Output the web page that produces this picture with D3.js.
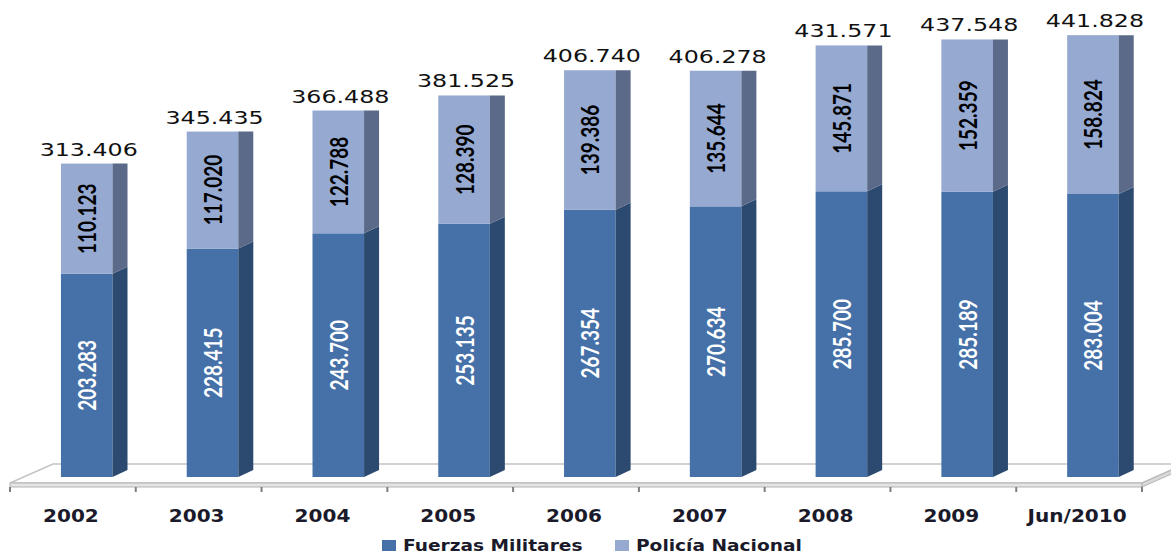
<!DOCTYPE html>
<html lang="en">
<head>
<meta charset="utf-8">
<title>Fuerzas Militares y Policía Nacional</title>
<script src="https://d3js.org/d3.v7.min.js"></script>
<style>
  body { margin: 0; background: #fff; }
  svg { display: block; }
</style>
</head>
<body>
<svg width="1171" height="556"></svg>
<script>
// data
var years = ["2002", "2003", "2004", "2005", "2006", "2007", "2008", "2009", "Jun/2010"];
var militares = [203.283, 228.415, 243.700, 253.135, 267.354, 270.634, 285.700, 285.189, 283.004];
var policia = [110.123, 117.020, 122.788, 128.390, 139.386, 135.644, 145.871, 152.359, 158.824];
var totals = [313.406, 345.435, 366.488, 381.525, 406.740, 406.278, 431.571, 437.548, 441.828];
var seriesNames = ["Fuerzas Militares", "Policía Nacional"];

var frontColors = ["#4571a8", "#95a9d1"],
    sideColors = ["#2c4a6f", "#5b6a88"],
    labelColors = ["#fff", "#000"];

var svg = d3.select("svg");

var x = d3.scaleBand()
    .domain(years)
    .range([10, 1142]);

var y = d3.scaleLinear()
    .domain([0, 450])
    .range([477, 27]);

var step = x.step(),
    barW = step * 0.41,
    barOff = step * 0.405,
    depth = 15,
    skew = 7;

var fmt = function(v) { return d3.format(".3f")(v); };

// floor
var floorTop = 464, floorFront = 483, floorBottom = 487;
svg.append("polygon")
    .attr("points", [[53, floorTop], [1185, floorTop], [1142, floorFront], [10, floorFront]].join(" "))
    .attr("fill", "#fff")
    .attr("stroke", "#c4c4c4")
    .attr("stroke-width", 1.5);
svg.append("rect")
    .attr("x", 10).attr("y", floorFront)
    .attr("width", 1132).attr("height", floorBottom - floorFront)
    .attr("fill", "#e4e4e4")
    .attr("stroke", "#b4b4b4");
svg.append("polygon")
    .attr("points", [[1142, floorFront], [1185, floorTop], [1185, floorTop + 4], [1142, floorBottom]].join(" "))
    .attr("fill", "#d8d8d8")
    .attr("stroke", "#b4b4b4");

// ticks
svg.selectAll(".tick")
    .data(d3.range(years.length + 1))
    .enter()
    .append("line")
    .attr("x1", function(i) { return x.range()[0] + i * step; })
    .attr("x2", function(i) { return x.range()[0] + i * step; })
    .attr("y1", floorBottom)
    .attr("y2", floorBottom + 5)
    .attr("stroke", "#7f7f7f")
    .attr("stroke-width", 2);

// stacked data
var stackData = years.map(function(d, i) {
  return { year: d, vals: [militares[i], policia[i]], total: totals[i] };
});

var bars = svg.selectAll(".bar")
    .data(stackData)
    .enter()
    .append("g")
    .attr("class", "bar");

bars.each(function(d) {
  var g = d3.select(this);
  var x1 = x(d.year) + barOff;
  var base = 0;
  d.vals.forEach(function(v, k) {
    var yb = y(base), yt = y(base + v);
    var isTop = k === d.vals.length - 1;
    g.append("rect")
      .attr("x", x1).attr("y", yt)
      .attr("width", barW).attr("height", yb - yt)
      .attr("fill", frontColors[k]);
    g.append("polygon")
      .attr("points", [[x1 + barW, yt], [x1 + barW + depth, isTop ? yt : yt - skew],
                       [x1 + barW + depth, yb - skew], [x1 + barW, yb]].join(" "))
      .attr("fill", sideColors[k]);
    // value label inside, rotated
    g.append("g")
      .attr("transform", "translate(" + (x1 + barW / 2) + "," + ((yt + yb) / 2) + ") scale(1.3,1) rotate(-90)")
      .append("text")
      .attr("text-anchor", "middle")
      .attr("dominant-baseline", "central")
      .attr("font-family", "Lato, 'Open Sans', sans-serif")
      .attr("font-weight", "bold")
      .attr("font-size", "19px")
      .attr("fill", labelColors[k])
      .text(fmt(v));
    base += v;
  });
  // total above bar
  g.append("g")
    .attr("transform", "translate(" + (x1 + barW / 2 + 2) + "," + (y(d.total) - 8) + ") scale(1.32,1)")
    .append("text")
    .attr("text-anchor", "middle")
    .attr("font-family", "'DejaVu Sans', Verdana, sans-serif")
    .attr("font-size", "18px")
    .attr("fill", "#111")
    .text(fmt(d.total));
});

// x axis labels
svg.selectAll(".xlabel")
    .data(years)
    .enter()
    .append("g")
    .attr("transform", function(d) { return "translate(" + (x(d) + step / 2 - 2) + ",522) scale(1.18,1)"; })
    .append("text")
    .attr("text-anchor", "middle")
    .attr("font-family", "'DejaVu Sans', Verdana, sans-serif")
    .attr("font-weight", "bold")
    .attr("font-size", "17px")
    .attr("fill", "#1a1a2a")
    .text(function(d) { return d; });

// legend
var legendX = [382, 615];
var legend = svg.selectAll(".legend")
    .data(seriesNames)
    .enter()
    .append("g")
    .attr("transform", function(d, i) { return "translate(" + legendX[i] + ",540)"; });

legend.append("rect")
    .attr("width", 14)
    .attr("height", 11)
    .attr("fill", function(d, i) { return frontColors[i]; });

legend.append("g")
    .attr("transform", "translate(21,11) scale(1.24,1)")
    .append("text")
    .attr("font-family", "'DejaVu Sans', Verdana, sans-serif")
    .attr("font-weight", "bold")
    .attr("font-size", "15px")
    .attr("fill", "#1a1a2a")
    .text(function(d) { return d; });
</script>
</body>
</html>
